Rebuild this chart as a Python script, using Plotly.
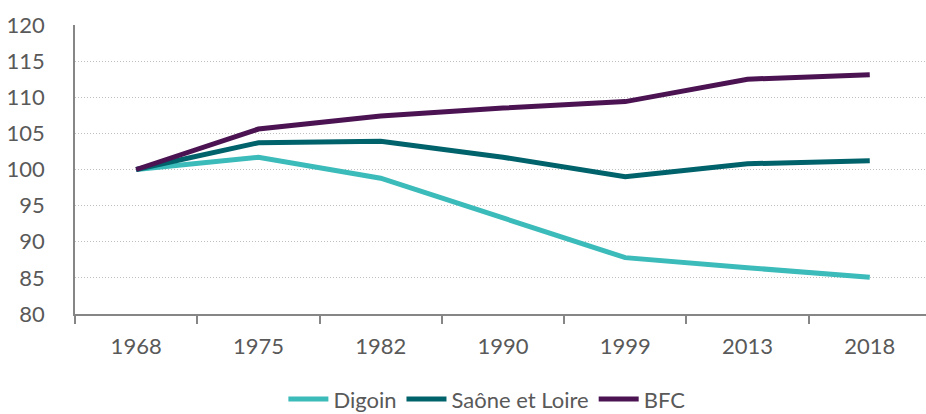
import plotly.graph_objects as go

years = ["1968", "1975", "1982", "1990", "1999", "2013", "2018"]
digoin = [100, 101.7, 98.8, 93.3, 87.8, 86.4, 85.1]
saone = [100, 103.7, 103.9, 101.7, 99.0, 100.8, 101.2]
bfc = [100, 105.6, 107.4, 108.5, 109.4, 112.5, 113.1]

series = [("Digoin", digoin, "#3BBBB9"), ("Saône et Loire", saone, "#00626B"), ("BFC", bfc, "#4B1352")]

fig = go.Figure()
for name, vals, col in series:
    fig.add_trace(go.Scatter(x=years, y=vals, name=name, mode="lines",
                             line=dict(color=col, width=5)))

font = dict(family="Lato, Carlito, Open Sans, sans-serif", size=22, color="#595959")
fig.update_layout(
    width=926, height=414,
    margin=dict(l=75, r=0, t=25, b=100, autoexpand=False),
    plot_bgcolor="white", paper_bgcolor="white",
    font=font,
    showlegend=True,
    legend=dict(orientation="h", x=0.484, xanchor="center", y=-0.222, yanchor="top",
                font=dict(size=22, color="#595959"), itemwidth=40, tracegroupgap=0),
    xaxis=dict(type="category", range=[-0.5, 6.46], showgrid=False, automargin=False,
               showline=True, linecolor="#868686", linewidth=1.5,
               ticks="outside", tickson="boundaries", ticklen=8, tickcolor="#868686",
               tickwidth=1.5, ticklabelstandoff=12, tickfont=font),
    yaxis=dict(range=[80, 120], dtick=5, showgrid=True, gridcolor="#BFBFBF", automargin=False,
               griddash="1px,2px", gridwidth=1.2, showline=True, linecolor="#868686",
               linewidth=1.5, zeroline=False, ticks="", ticklabelstandoff=24,
               tickfont=font),
)
fig.write_html("out.html", config={"displayModeBar": False},
               post_script="document.body.style.margin='0';document.body.style.overflow='hidden';")
